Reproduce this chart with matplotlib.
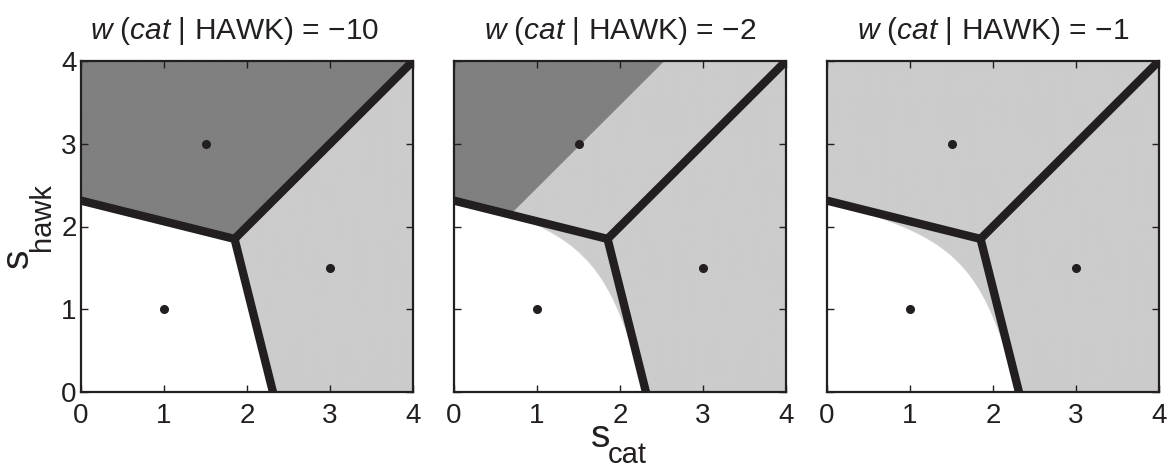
import numpy as np
import matplotlib
matplotlib.use("Agg")
import matplotlib.pyplot as plt
from matplotlib.colors import ListedColormap

plt.rcParams['font.family'] = ['Liberation Sans', 'DejaVu Sans']
plt.rcParams['mathtext.fontset'] = 'custom'
plt.rcParams['mathtext.rm'] = 'Liberation Sans'
plt.rcParams['mathtext.it'] = 'Liberation Sans:italic'

# ---- data ----
categories = ['DOG', 'HAWK', 'CAT']          # white, dark, light
proto_s_cat = [1.0, 1.5, 3.0]
proto_s_hawk = [1.0, 3.0, 1.5]
sigma = 1.0
w_correct = -1.0
w_error = -10.0
w_cat_given_hawk = [-10, -2, -1]
tick_values = [0, 1, 2, 3, 4]

region_colors = ['#ffffff', '#808080', '#cccccc']
ink = '#231f20'

FW, FH = 1169, 472
fig = plt.figure(figsize=(FW / 100, FH / 100), dpi=100)
lefts = [81 / FW, 454 / FW, 827 / FW]
title_x = [0.462, 0.5, 0.5]
bottom = 80 / FH
w_ax = 332 / FW
h_ax = 331 / FH

n = 1200
xs = np.linspace(0, 4, n)
X, Y = np.meshgrid(xs, xs)
P = np.stack([np.array(proto_s_cat), np.array(proto_s_hawk)], axis=1)
d2 = np.stack([(X - P[k, 0]) ** 2 + (Y - P[k, 1]) ** 2 for k in range(3)])
loglik = -d2 / (2 * sigma ** 2)
loglik -= loglik.max(axis=0, keepdims=True)
post = np.exp(loglik)
post /= post.sum(axis=0, keepdims=True)

# Voronoi (MAP) boundaries
def voronoi_edges():
    edges = []
    t = np.linspace(-8, 8, 40001)
    for i in range(3):
        for j in range(i + 1, 3):
            m = (P[i] + P[j]) / 2
            dvec = P[j] - P[i]
            perp = np.array([-dvec[1], dvec[0]]) / np.hypot(*dvec)
            pts = m[None, :] + t[:, None] * perp[None, :]
            inside = (pts[:, 0] >= -0.05) & (pts[:, 0] <= 4.05) & (pts[:, 1] >= -0.05) & (pts[:, 1] <= 4.05)
            di = ((pts - P[i]) ** 2).sum(1)
            ok = inside.copy()
            for k in range(3):
                if k not in (i, j):
                    ok &= di <= ((pts - P[k]) ** 2).sum(1)
            edges.append(pts[ok])
    return edges

edges = voronoi_edges()

for pi, v in enumerate(w_cat_given_hawk):
    W = np.full((3, 3), w_error)
    np.fill_diagonal(W, w_correct)
    W[2, 1] = v   # respond cat when truth is HAWK
    EU = np.tensordot(W, post, axes=([1], [0]))
    choice = np.argmax(EU, axis=0)

    ax = fig.add_axes([lefts[pi], bottom, w_ax, h_ax])
    ax.imshow(choice, origin='lower', extent=[0, 4, 0, 4],
              cmap=ListedColormap(region_colors), vmin=-0.5, vmax=2.5,
              interpolation='antialiased', aspect='auto', zorder=0)
    for e in edges:
        ax.plot(e[:, 0], e[:, 1], color=ink, lw=6, solid_capstyle='butt', zorder=2)
    ax.plot(proto_s_cat, proto_s_hawk, 'o', color=ink, ms=5.5, zorder=3)

    ax.set_xlim(0, 4)
    ax.set_ylim(0, 4)
    ax.set_xticks(tick_values)
    ax.set_yticks(tick_values)
    ax.tick_params(direction='in', length=5, width=1, colors=ink, labelsize=20,
                   top=True, right=True)
    ax.tick_params(axis='x', pad=8)
    ax.tick_params(axis='y', pad=3)
    if pi > 0:
        ax.set_yticklabels([])
    for sp in ax.spines.values():
        sp.set_linewidth(1.6)
        sp.set_color(ink)
        sp.set_zorder(5)
    vstr = f"{v}".replace('-', '\u2212')
    ax.set_title(r'$\it{w}$ ($\it{cat}$ | HAWK) = ' + vstr, fontsize=21.5,
                 color=ink, pad=16, x=title_x[pi])

def fx(px):
    return px / FW

def fy(py):
    return 1 - py / FH

# axis labels (s with subscript), anchored at baselines
fig.text(fx(591), fy(447), 's', fontsize=28, color=ink, ha='left', va='baseline',
         rotation_mode='anchor')
fig.text(fx(608), fy(463), 'cat', fontsize=21, color=ink, ha='left', va='baseline',
         rotation_mode='anchor')
fig.text(fx(28), fy(268), 's', fontsize=28, color=ink, rotation=90, ha='left',
         va='baseline', rotation_mode='anchor')
fig.text(fx(50), fy(251), 'hawk', fontsize=21, color=ink, rotation=90, ha='left',
         va='baseline', rotation_mode='anchor')

fig.savefig('out.png', dpi=100)
